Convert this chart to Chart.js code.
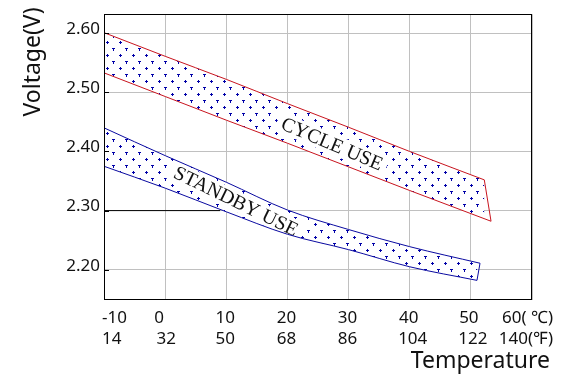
<!DOCTYPE html>
<html>
<head>
<meta charset="utf-8">
<script src="https://cdn.jsdelivr.net/npm/chart.js@4.4.1/dist/chart.umd.min.js"></script>
<style>
  html, body { margin: 0; padding: 0; background: #fff; }
  #wrap { width: 561px; height: 378px; position: relative; }
</style>
</head>
<body>
<div id="wrap"><canvas id="chart"></canvas></div>
<script>
// temperature ticks (°C) and their °F labels
const celsiusTicks = [-10, 0, 10, 20, 30, 40, 50, 60];
const celsiusLabels = ['-10', '0', '10', '20', '30', '40', '50', '60( \u2103)'];
const fahrenheitLabels = ['14', '32', '50', '68', '86', '104', '122', '140(\u2109)'];
const voltageTicks = [2.20, 2.30, 2.40, 2.50, 2.60];

// cycle use band
const cycleUpperT = [-10, 0, 10, 20, 30, 40, 52.2];
const cycleUpperV = [2.601, 2.561, 2.522, 2.481, 2.441, 2.400, 2.352];
const cycleLowerT = [-10, 0, 10, 20, 30, 40, 53.3];
const cycleLowerV = [2.533, 2.493, 2.453, 2.414, 2.374, 2.334, 2.282];

// standby use band
const standbyUpperT = [-10, 0, 10, 20, 30, 40, 51.5];
const standbyUpperV = [2.440, 2.393, 2.348, 2.301, 2.268, 2.239, 2.211];
const standbyLowerT = [-10, 0, 10, 20, 30, 40, 51.0];
const standbyLowerV = [2.375, 2.338, 2.298, 2.260, 2.234, 2.205, 2.182];

// short black marker on the 2.30 line
const markerT = [-10, 9.0];
const markerV = [2.30, 2.30];

// band captions
const captions = [
    { text: 'CYCLE USE', t: 27.3, v: 2.413, angle: 23 },
    { text: 'STANDBY USE', t: 11.6, v: 2.316, angle: 26 }
];

function toPoints(ts, vs) {
    return ts.map(function (t, i) { return { x: t, y: vs[i] }; });
}

// right-hand closing edge of a band: last upper point to last lower point
function endEdge(ut, uv, lt, lv) {
    const u = ut.length - 1, l = lt.length - 1;
    return [{ x: ut[u], y: uv[u] }, { x: lt[l], y: lv[l] }];
}

function dotPattern() {
    const c = document.createElement('canvas');
    c.width = 13;
    c.height = 13;
    const g = c.getContext('2d');
    g.fillStyle = '#ffffff';
    g.fillRect(0, 0, 13, 13);
    g.fillStyle = '#0000a8';
    // little plus
    g.fillRect(2, 3, 3, 1);
    g.fillRect(3, 2, 1, 3);
    // little T
    g.fillRect(8, 9, 3, 1);
    g.fillRect(9, 9, 1, 3);
    return g.createPattern(c, 'repeat');
}

const sansFont = "'Noto Sans', sans-serif";
const xLabelShift1 = [null, -6, -1, -1, -1, -1, -2, null];
const xLabelShift2 = [null, 1, -1, -1, -1, 3, 2, null];

const decorPlugin = {
    id: 'decor',
    // runs after the filler, before the band outlines
    beforeDatasetsDraw(chart) {
        const ctx = chart.ctx;
        const x = chart.scales.x, y = chart.scales.y;
        ctx.save();
        ctx.font = "20px 'Liberation Serif', serif";
        ctx.textAlign = 'center';
        ctx.textBaseline = 'middle';
        captions.forEach(function (c) {
            const px = x.getPixelForValue(c.t);
            const py = y.getPixelForValue(c.v);
            const w = ctx.measureText(c.text).width;
            ctx.save();
            ctx.translate(px, py);
            ctx.rotate(c.angle * Math.PI / 180);
            ctx.fillStyle = '#ffffff';
            ctx.fillRect(-w / 2 - 5, -10, w + 10, 20);
            ctx.fillStyle = '#111111';
            ctx.fillText(c.text, 0, 1);
            ctx.restore();
        });
        ctx.restore();
    },
    afterDraw(chart) {
        const ctx = chart.ctx;
        const a = chart.chartArea;
        const x = chart.scales.x, y = chart.scales.y;
        ctx.save();

        // frame
        ctx.strokeStyle = '#000000';
        ctx.lineWidth = 1;
        ctx.strokeRect(Math.round(a.left) + 0.5, Math.round(a.top) + 0.5,
            Math.round(a.right - a.left) - 1, Math.round(a.bottom - a.top) - 1);

        // inner tick marks on the voltage axis
        ctx.beginPath();
        voltageTicks.forEach(function (v) {
            const py = Math.round(y.getPixelForValue(v)) + 0.5;
            ctx.moveTo(a.left, py);
            ctx.lineTo(a.left + 5, py);
        });
        ctx.stroke();

        // two rows of temperature labels
        ctx.fillStyle = '#111111';
        ctx.font = '17px ' + sansFont;
        ctx.textBaseline = 'middle';
        const last = celsiusTicks.length - 1;
        celsiusTicks.forEach(function (t, i) {
            const px = x.getPixelForValue(t);
            if (i === 0) {
                ctx.textAlign = 'left';
                ctx.fillText(celsiusLabels[i], px - 2, 318);
                ctx.fillText(fahrenheitLabels[i], px - 2, 339);
            } else if (i === last) {
                ctx.textAlign = 'right';
                ctx.fillText(celsiusLabels[i], px + 21, 318);
                ctx.fillText(fahrenheitLabels[i], px + 21, 339);
            } else {
                ctx.textAlign = 'center';
                ctx.fillText(celsiusLabels[i], px + xLabelShift1[i], 318);
                ctx.fillText(fahrenheitLabels[i], px + xLabelShift2[i], 339);
            }
        });

        // axis titles
        ctx.font = '23px ' + sansFont;
        ctx.textAlign = 'right';
        ctx.fillText('Temperature', 550, 361);

        ctx.translate(33, 62);
        ctx.rotate(-Math.PI / 2);
        ctx.textAlign = 'center';
        ctx.fillText('Voltage(V)', 0, 0);
        ctx.restore();
    }
};

const pattern = dotPattern();
const RED = '#c8141e';
const BLUE = '#0a0aa0';

function edgeLine(label, points, color, fill) {
    return {
        label: label,
        data: points,
        showLine: true,
        borderColor: color,
        borderWidth: 1,
        backgroundColor: pattern,
        pointRadius: 0,
        cubicInterpolationMode: 'monotone',
        fill: fill
    };
}

new Chart(document.getElementById('chart'), {
    type: 'scatter',
    data: {
        datasets: [
            edgeLine('marker', toPoints(markerT, markerV), '#000000', false),
            edgeLine('Cycle upper', toPoints(cycleUpperT, cycleUpperV), RED, '+1'),
            edgeLine('Cycle lower', toPoints(cycleLowerT, cycleLowerV), RED, false),
            edgeLine('Cycle end', endEdge(cycleUpperT, cycleUpperV, cycleLowerT, cycleLowerV), RED, false),
            edgeLine('Standby upper', toPoints(standbyUpperT, standbyUpperV), BLUE, '+1'),
            edgeLine('Standby lower', toPoints(standbyLowerT, standbyLowerV), BLUE, false),
            edgeLine('Standby end', endEdge(standbyUpperT, standbyUpperV, standbyLowerT, standbyLowerV), BLUE, false)
        ]
    },
    options: {
        responsive: true,
        maintainAspectRatio: false,
        animation: false,
        layout: {
            padding: { top: 10, right: 29, left: 0, bottom: 0 }
        },
        plugins: {
            legend: { display: false },
            tooltip: { enabled: false },
            filler: { drawTime: 'beforeDatasetsDraw' }
        },
        scales: {
            x: {
                type: 'linear',
                min: -10,
                max: 60,
                afterFit: function (scale) { scale.height = 78; },
                ticks: { display: false, stepSize: 10 },
                grid: { color: '#c0c0c0', drawTicks: false },
                border: { display: false }
            },
            y: {
                min: 2.1488,
                max: 2.6322,
                afterFit: function (scale) { scale.width = 104; },
                ticks: {
                    stepSize: 0.1,
                    includeBounds: false,
                    padding: 4,
                    labelOffset: -4,
                    color: '#111111',
                    font: { family: sansFont, size: 17 },
                    callback: function (v) { return v.toFixed(2); }
                },
                grid: { color: '#c0c0c0', drawTicks: false },
                border: { display: false }
            }
        }
    },
    plugins: [decorPlugin]
});
</script>
</body>
</html>
